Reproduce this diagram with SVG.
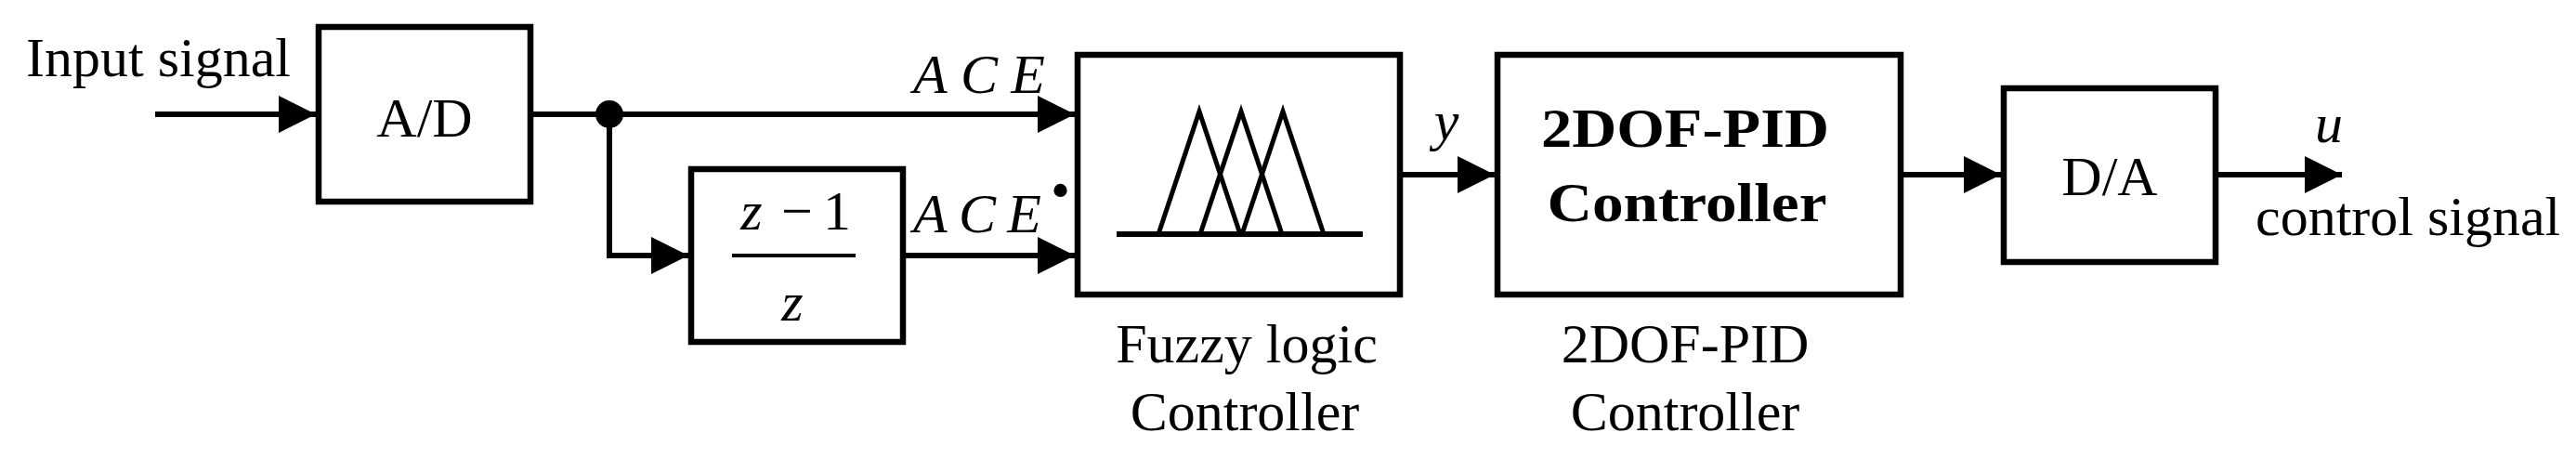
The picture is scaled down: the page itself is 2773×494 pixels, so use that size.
<svg xmlns="http://www.w3.org/2000/svg" width="2773" height="494" viewBox="0 0 2773 494">
<style>
.box{fill:#fff;stroke:#000;stroke-width:6.5}
.wire{fill:none;stroke:#000;stroke-width:6}
.t{font-family:"Liberation Serif","Times New Roman",serif;fill:#000;font-size:60px}
.it{font-style:italic}
.b{font-weight:bold}
.m{text-anchor:middle}
</style>
<defs>
<marker id="ah" markerUnits="userSpaceOnUse" markerWidth="42" markerHeight="42" refX="40" refY="20" orient="auto" viewBox="0 0 42 42">
<path d="M0,0 L40,20 L0,40 Z" fill="#000"/>
</marker>
</defs>
<rect width="2773" height="494" fill="#fff"/>

<g id="connectors">
<line class="wire" x1="167" y1="123" x2="340" y2="123" marker-end="url(#ah)"/>
<line class="wire" x1="571" y1="123" x2="1157" y2="123" marker-end="url(#ah)"/>
<polyline class="wire" points="656,123 656,275 741,275" marker-end="url(#ah)"/>
<circle cx="656" cy="123" r="15" fill="#000"/>
<line class="wire" x1="972" y1="275" x2="1157" y2="275" marker-end="url(#ah)"/>
<line class="wire" x1="1507" y1="188" x2="1609" y2="188" marker-end="url(#ah)"/>
<line class="wire" x1="2046" y1="188" x2="2154" y2="188" marker-end="url(#ah)"/>
<line class="wire" x1="2385" y1="188" x2="2521" y2="188" marker-end="url(#ah)"/>
</g>

<g id="labels">
<text class="t" x="28" y="82">Input signal</text>
<text class="t it" x="983" y="100" textLength="142" lengthAdjust="spacing" font-size="67">ACE</text>
<text class="t it" x="983" y="250" textLength="138" lengthAdjust="spacing" font-size="67">ACE</text>
<text class="t" x="1131" y="225" font-size="48">•</text>
<text class="t it m" x="1557" y="150" font-size="64">y</text>
<text class="t it m" x="2507" y="153" font-size="62">u</text>
<text class="t" x="2428" y="253">control signal</text>
</g>

<g id="ad">
<rect class="box" x="343" y="29" width="228" height="188"/>
<text class="t m" x="457" y="147" font-size="70">A/D</text>
</g>

<g id="zblock">
<rect class="box" x="744" y="182" width="228" height="186"/>
<text class="t it m" x="809" y="247" font-size="62">z</text>
<text class="t m" x="858" y="247" font-size="62">−</text>
<text class="t m" x="901" y="247" font-size="62">1</text>
<line x1="788" y1="275" x2="921" y2="275" stroke="#000" stroke-width="4"/>
<text class="t it m" x="853" y="345" font-size="62">z</text>
</g>

<g id="fuzzy">
<rect class="box" x="1160" y="59" width="347" height="258"/>
<line x1="1202" y1="252" x2="1467" y2="252" stroke="#000" stroke-width="6"/>
<polyline points="1247,252 1291,120 1335,252" fill="none" stroke="#000" stroke-width="5" stroke-linejoin="miter"/>
<polyline points="1292,252 1336,120 1380,252" fill="none" stroke="#000" stroke-width="5" stroke-linejoin="miter"/>
<polyline points="1337,252 1381,120 1425,252" fill="none" stroke="#000" stroke-width="5" stroke-linejoin="miter"/>
<text class="t m" x="1342" y="390">Fuzzy logic</text>
<text class="t m" x="1340" y="463">Controller</text>
</g>

<g id="pid">
<rect class="box" x="1612" y="59" width="434" height="258"/>
<text class="t b m" x="1814" y="158" font-size="62" textLength="310" lengthAdjust="spacingAndGlyphs">2DOF-PID</text>
<text class="t b m" x="1816" y="238" font-size="62" textLength="301" lengthAdjust="spacingAndGlyphs">Controller</text>
<text class="t m" x="1814" y="390">2DOF-PID</text>
<text class="t m" x="1814" y="463">Controller</text>
</g>

<g id="da">
<rect class="box" x="2157" y="95" width="228" height="187"/>
<text class="t m" x="2271" y="210" font-size="70">D/A</text>
</g>
</svg>
